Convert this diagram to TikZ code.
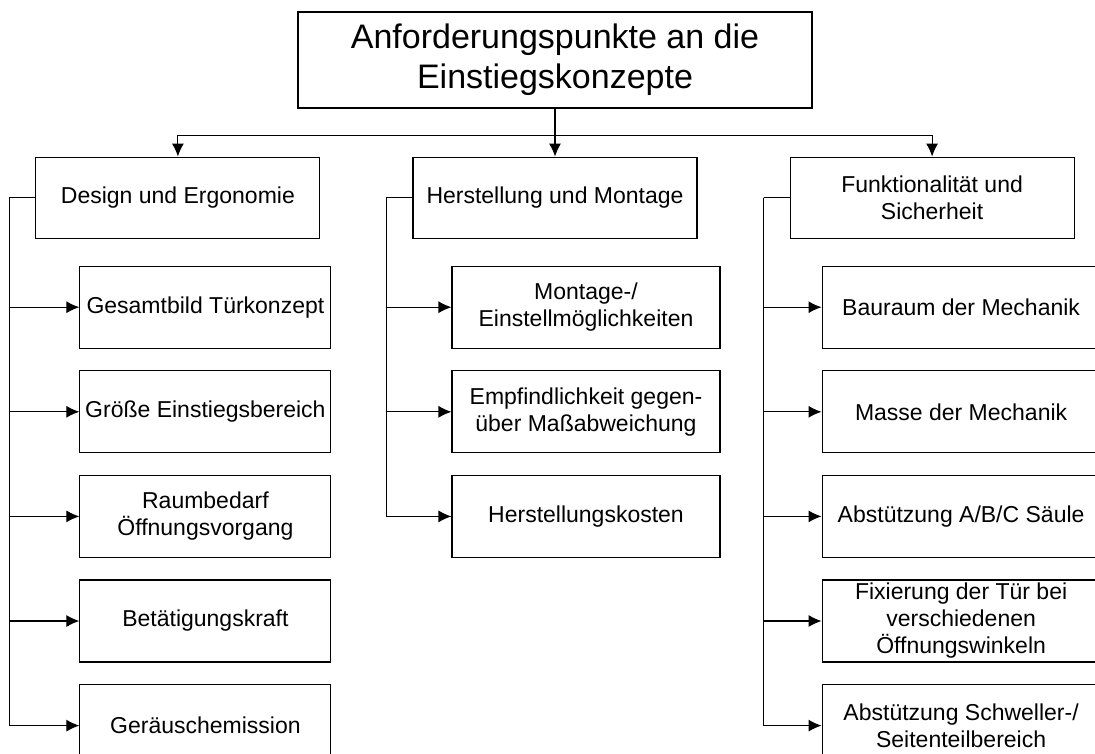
\documentclass[tikz,border=0pt]{standalone}
\usepackage{fontspec}
\setmainfont{Liberation Sans}
\usetikzlibrary{positioning,arrows.meta}

\begin{document}
\begin{tikzpicture}[
    x=1pt, y=1pt,
    node distance=21.5pt,
    box/.style={draw, line width=1.1pt, align=center, inner sep=1pt, font=\fontsize{23}{27}\selectfont},
    mainbox/.style={box, minimum width=514pt, minimum height=96pt, font=\fontsize{34}{40}\selectfont},
    group/.style={box, minimum width=284pt, minimum height=81pt},
    itemL/.style={box, minimum width=251pt, minimum height=82pt},
    itemM/.style={box, minimum width=268pt, minimum height=82pt},
    itemR/.style={box, minimum width=278pt, minimum height=82pt},
    link/.style={line width=1.1pt},
    >={Latex[length=13pt,width=12pt]}
]
    \useasboundingbox (0,0) rectangle (1095,-753);
    \clip (0,0) rectangle (1095,-753);

    \node[mainbox] (top) at (555,-60) {Anforderungspunkte an die\\Einstiegskonzepte};

    \node[group, below=48pt of top] (herst) {Herstellung und Montage};
    \node[group, left=92pt of herst] (design) {Design und Ergonomie};
    \node[group, right=92pt of herst] (funk) {Funktionalität und\\Sicherheit};

    \node[itemL, below right=27pt and 44pt of design.south west] (d1) {Gesamtbild Türkonzept};
    \node[itemL, below=of d1] (d2) {Größe Einstiegsbereich};
    \node[itemL, below=of d2] (d3) {Raumbedarf\\Öffnungsvorgang};
    \node[itemL, below=of d3] (d4) {Betätigungskraft};
    \node[itemL, below=of d4] (d5) {Geräuschemission};

    \node[itemM, below right=27pt and 39pt of herst.south west] (h1) {Montage-/\\Einstellmöglichkeiten};
    \node[itemM, below=of h1] (h2) {Empfindlichkeit gegen-\\über Maßabweichung};
    \node[itemM, below=of h2] (h3) {Herstellungskosten};

    \node[itemR, below right=27pt and 32pt of funk.south west] (f1) {Bauraum der Mechanik};
    \node[itemR, below=of f1] (f2) {Masse der Mechanik};
    \node[itemR, below=of f2] (f3) {Abstützung A/B/C Säule};
    \node[itemR, below=of f3] (f4) {Fixierung der Tür bei\\verschiedenen\\Öffnungswinkeln};
    \node[itemR, below=of f4] (f5) {Abstützung Schweller-/\\Seitenteilbereich};

    \coordinate[below=27pt of top.south] (bus);
    \coordinate[left=26pt of design.west] (dspine);
    \coordinate[left=26pt of herst.west] (hspine);
    \coordinate[left=26pt of funk.west] (fspine);

    \draw[link, ->] (top.south) -- (herst.north);
    \draw[link, ->] (bus) -| (design.north);
    \draw[link, ->] (bus) -| (funk.north);

    \draw[link] (design.west) -- (dspine);
    \draw[link, ->] (dspine) |- (d1.west);
    \draw[link, ->] (dspine) |- (d2.west);
    \draw[link, ->] (dspine) |- (d3.west);
    \draw[link, ->] (dspine) |- (d4.west);
    \draw[link, ->] (dspine) |- (d5.west);

    \draw[link] (herst.west) -- (hspine);
    \draw[link, ->] (hspine) |- (h1.west);
    \draw[link, ->] (hspine) |- (h2.west);
    \draw[link, ->] (hspine) |- (h3.west);

    \draw[link] (funk.west) -- (fspine);
    \draw[link, ->] (fspine) |- (f1.west);
    \draw[link, ->] (fspine) |- (f2.west);
    \draw[link, ->] (fspine) |- (f3.west);
    \draw[link, ->] (fspine) |- (f4.west);
    \draw[link, ->] (fspine) |- (f5.west);
\end{tikzpicture}
\end{document}
